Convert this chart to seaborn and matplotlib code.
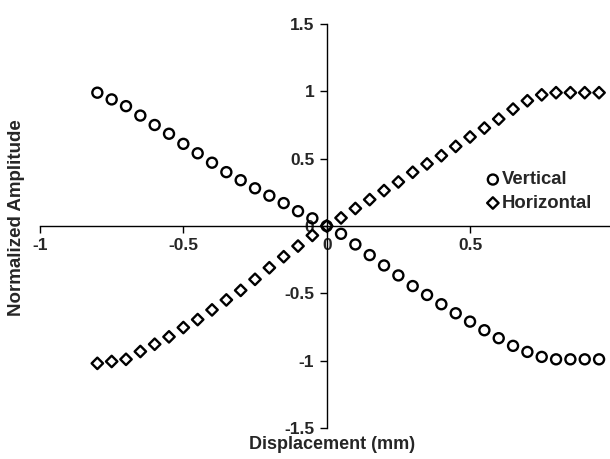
import numpy as np
import pandas as pd
import matplotlib
matplotlib.use("Agg")
import matplotlib.pyplot as plt
import seaborn as sns

# Displacement (mm) in steps of 0.05
displacement = np.round(np.arange(-0.8, 0.951, 0.05), 2)

vertical = [0.99, 0.94, 0.89, 0.82, 0.75, 0.685, 0.61, 0.54, 0.47, 0.40,
            0.34, 0.28, 0.225, 0.17, 0.11, 0.057, 0.0,
            -0.058, -0.137, -0.216, -0.293, -0.367, -0.446, -0.512, -0.581,
            -0.648, -0.71, -0.774, -0.833, -0.89, -0.935, -0.972, -0.99,
            -0.99, -0.99, -0.99]

horizontal = [-1.02, -1.006, -0.99, -0.932, -0.878, -0.823, -0.754, -0.695,
              -0.623, -0.549, -0.478, -0.396, -0.31, -0.228, -0.149, -0.07, 0.0,
              0.06, 0.13, 0.196, 0.263, 0.327, 0.399, 0.461, 0.522, 0.591,
              0.661, 0.727, 0.794, 0.868, 0.93, 0.974, 0.99, 0.99, 0.99, 0.99]

x_ticks = [-1, -0.5, 0, 0.5, 1]
x_labels = ["-1", "-0.5", "0", "0.5", ""]  # the "1" falls off the right edge
y_ticks = [-1.5, -1, -0.5, 0, 0.5, 1, 1.5]
y_labels = ["-1.5", "-1", "-0.5", "0", "0.5", "1", "1.5"]

df = pd.DataFrame({"disp": displacement, "Vertical": vertical, "Horizontal": horizontal})

sns.set_style("white")
plt.rcParams["font.family"] = ["Liberation Sans", "DejaVu Sans"]
plt.rcParams["font.weight"] = "bold"

fig = plt.figure(figsize=(6.1, 4.59), dpi=100)
ax = fig.add_axes([40 / 610, 31 / 459, 573.4 / 610, 404 / 459])

sns.scatterplot(data=df, x="disp", y="Vertical", marker="o", s=52,
                facecolors="none", edgecolor="black", linewidth=1.7,
                label="Vertical", ax=ax, clip_on=False, zorder=3)
sns.scatterplot(data=df, x="disp", y="Horizontal", marker="D", s=34,
                facecolors="none", edgecolor="black", linewidth=1.7,
                label="Horizontal", ax=ax, clip_on=False, zorder=3)

ax.set_xlim(-1, 1)
ax.set_ylim(-1.5, 1.5)

# axes cross at the origin
ax.spines["left"].set_position(("data", 0))
ax.spines["bottom"].set_position(("data", 0))
ax.spines["top"].set_visible(False)
ax.spines["right"].set_visible(False)
for sp in ("left", "bottom"):
    ax.spines[sp].set_color("black")
    ax.spines[sp].set_linewidth(1.0)

ax.set_xticks(x_ticks)
ax.set_xticklabels(x_labels)
ax.set_yticks(y_ticks)
ax.set_yticklabels(y_labels)
ax.tick_params(axis="both", direction="out", length=5, width=1, color="black",
               labelsize=12.5, pad=4, left=True, bottom=True)
for lab in ax.get_xticklabels() + ax.get_yticklabels():
    lab.set_fontweight("bold")

ax.set_xlabel("Displacement (mm)", fontsize=13, fontweight="bold")
ax.set_ylabel("Normalized Amplitude", fontsize=13.5, fontweight="bold")
ax.xaxis.set_label_coords(0.51, -0.02)
ax.yaxis.set_label_coords(-0.026, 0.52)

leg = ax.legend(loc="upper left", bbox_to_anchor=(467 / 610, 1 - 164 / 459),
                bbox_transform=fig.transFigure, frameon=False,
                prop={"size": 13.3, "weight": "bold"}, handletextpad=-0.5,
                labelspacing=0.35, borderaxespad=0)

fig.savefig("out.png", dpi=100)
plt.close(fig)
